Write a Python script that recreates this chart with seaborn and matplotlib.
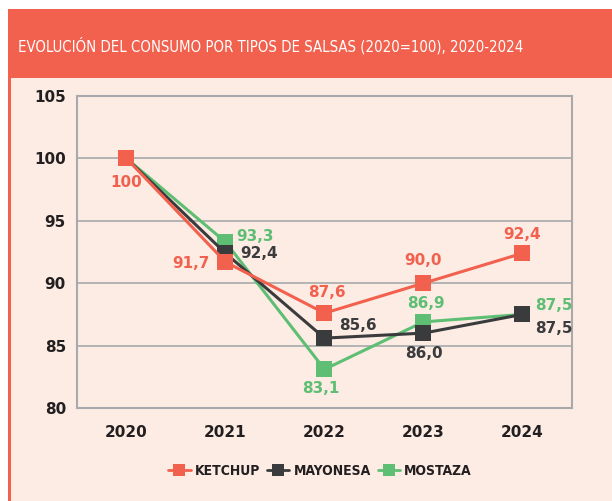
import matplotlib
matplotlib.use("Agg")
import matplotlib.pyplot as plt
import matplotlib.patches as mpatches
from matplotlib.lines import Line2D
import seaborn as sns

years = [2020, 2021, 2022, 2023, 2024]
ketchup = [100, 91.7, 87.6, 90.0, 92.4]
mayonesa = [100, 92.4, 85.6, 86.0, 87.5]
mostaza = [100, 93.3, 83.1, 86.9, 87.5]
series_names = ["KETCHUP", "MAYONESA", "MOSTAZA"]
yticks = [80, 85, 90, 95, 100, 105]

title = "EVOLUCIÓN DEL CONSUMO POR TIPOS DE SALSAS (2020=100), 2020-2024"

red = "#F2604E"
dark = "#3A3B3D"
green = "#5DBE74"
pink = "#FDECE4"
grey = "#A7A9AC"
txt = "#231F20"
colors = {"KETCHUP": red, "MAYONESA": dark, "MOSTAZA": green}
values = {"KETCHUP": ketchup, "MAYONESA": mayonesa, "MOSTAZA": mostaza}

# label offsets in pixels (dx, dy, ha), None = no label
offsets = {
    "KETCHUP": [(0, -24, "center"), (-16, -2, "right"), (2, 21, "center"), (0, 23, "center"), (0, 19, "center")],
    "MAYONESA": [None, (15, 0, "left"), (15, 13, "left"), (0, -20, "center"), (13, -14, "left")],
    "MOSTAZA": [None, (11, 6, "left"), (-4, -19, "center"), (2, 18, "center"), (13, 9, "left")],
}

sns.set_style("white")
fig = plt.figure(figsize=(6.12, 5.01), dpi=100)
fig.patch.set_facecolor("white")
renderer = fig.canvas.get_renderer()

W, H = 612, 501
# pink panel + red banner + red left border
fig.add_artist(mpatches.Rectangle((9 / W, 0), 1, 1 - 78 / H, transform=fig.transFigure,
                                  facecolor=pink, edgecolor="none", zorder=0))
fig.add_artist(mpatches.Rectangle((8 / W, 1 - 78 / H), 1, 69 / H, transform=fig.transFigure,
                                  facecolor=red, edgecolor="none", zorder=0))
fig.add_artist(mpatches.Rectangle((8 / W, 0), 3 / W, 1 - 78 / H, transform=fig.transFigure,
                                  facecolor=red, edgecolor="none", zorder=0))

t = fig.text(18 / W, 1 - 46 / H, title, color="white", fontsize=12.5,
             family="DejaVu Sans", fontstretch="condensed", va="center", ha="left")
# squeeze the title so it spans like the reference (~502 px)
w = t.get_window_extent(renderer).width
if w > 502:
    t.set_fontsize(12.5 * 502 / w)

ax = fig.add_axes([77 / W, 1 - 408 / H, 495 / W, 312 / H])
ax.set_facecolor(pink)

# draw in reverse so ketchup sits on top
for name in reversed(series_names):
    sns.lineplot(x=years, y=values[name], ax=ax, color=colors[name], marker="s",
                 markersize=11, markeredgewidth=0, linewidth=2.2, label=name, legend=False)

for name in series_names:
    for i, (yr, v) in enumerate(zip(years, values[name])):
        off = offsets[name][i]
        if off is None:
            continue
        lab = "100" if v == 100 else f"{v:.1f}".replace(".", ",")
        ax.annotate(lab, (yr, v), xytext=(off[0], off[1]), textcoords="offset pixels",
                    ha=off[2], va="center", color=colors[name], fontsize=11,
                    fontweight="bold", family="DejaVu Sans", zorder=5)

ax.set_xlim(2019.5, 2024.5)
ax.set_ylim(80, 105)
ax.set_xticks(years)
ax.set_yticks(yticks)
ax.set_xticklabels([str(y) for y in years])
ax.tick_params(axis="both", length=0, labelsize=11, labelcolor=txt)
ax.tick_params(axis="y", pad=8)
ax.tick_params(axis="x", pad=12)
for lab in ax.get_xticklabels() + ax.get_yticklabels():
    lab.set_fontweight("bold")
ax.grid(axis="y", color=grey, linewidth=1.2)
ax.set_axisbelow(True)
for sp in ax.spines.values():
    sp.set_color(grey)
    sp.set_linewidth(1.5)
ax.set_xlabel("")
ax.set_ylabel("")

handles = [Line2D([], [], color=colors[n], marker="s", markersize=9, markeredgewidth=0, linewidth=2)
           for n in series_names]
leg = fig.legend(handles, series_names, loc="center", bbox_to_anchor=(320 / W, 1 - 471 / H),
                 ncol=3, frameon=False, handlelength=1.6, handletextpad=0.3, columnspacing=0.5,
                 prop={"family": "DejaVu Sans", "stretch": "condensed", "weight": "bold", "size": 10})
for tx in leg.get_texts():
    tx.set_color(txt)

fig.savefig("out.png", dpi=100, facecolor=fig.get_facecolor())
